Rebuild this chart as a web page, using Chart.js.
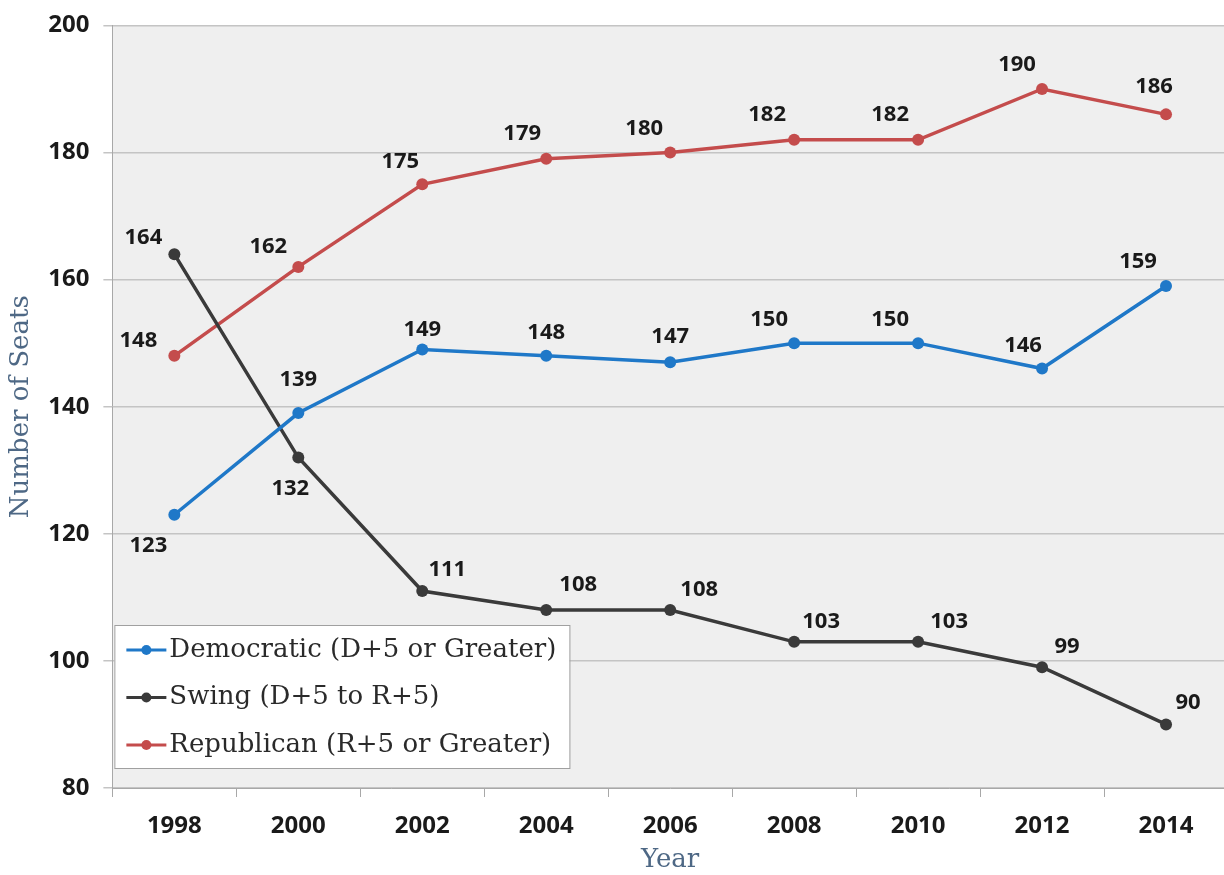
<!DOCTYPE html>
<html>
<head>
<meta charset="utf-8">
<script src="https://cdn.jsdelivr.net/npm/chart.js@4.4.1/dist/chart.umd.min.js"></script>
<style>
  html, body { margin: 0; padding: 0; background: #ffffff; overflow: hidden; }
  #wrap { width: 1224px; height: 875px; position: relative; overflow: hidden; }
  #c { position: absolute; left: 0; top: -3px; }
</style>
</head>
<body>
<div id="wrap"><canvas id="c" width="1234" height="881"></canvas></div>
<script>
// ---- data ----
const years = ['1998', '2000', '2002', '2004', '2006', '2008', '2010', '2012', '2014'];
const democratic = [123, 139, 149, 148, 147, 150, 150, 146, 159];
const swing      = [164, 132, 111, 108, 108, 103, 103, 99, 90];
const republican = [148, 162, 175, 179, 180, 182, 182, 190, 186];
const seriesNames = ['Democratic (D+5 or Greater)', 'Swing (D+5 to R+5)', 'Republican (R+5 or Greater)'];
const yTicks = [80, 100, 120, 140, 160, 180, 200];

// ---- styling ----
const colors = ['#1f78c8', '#3a3a3a', '#c44c4c'];
const labelFont = '700 22px "Open Sans"';
// label offsets (dx, dy) relative to each point, per series
const labelOffsets = [
  [[-26, 31], [0, -33], [0, -20], [0, -23], [0, -25], [-25, -23], [-28, -23], [-19, -23], [-28, -24]],
  [[-31, -16], [-8, 31], [25, -21], [32, -25], [29, -20], [27, -20], [31, -20], [25, -21], [22, -22]],
  [[-36, -15], [-30, -20], [-22, -23], [-24, -25], [-26, -24], [-27, -25], [-28, -25], [-25, -24], [-12, -28]]
];

const bgPlugin = {
  id: 'plotBg',
  beforeDraw(chart) {
    const { ctx, chartArea: a } = chart;
    ctx.save();
    ctx.fillStyle = '#efefef';
    ctx.fillRect(a.left, a.top, a.right - a.left, a.bottom - a.top);
    ctx.restore();
  }
};

const labelPlugin = {
  id: 'pointLabels',
  afterDatasetsDraw(chart) {
    const { ctx } = chart;
    ctx.save();
    ctx.font = labelFont;
    ctx.fillStyle = '#1a1a1a';
    ctx.textAlign = 'center';
    ctx.textBaseline = 'middle';
    chart.data.datasets.forEach((ds, di) => {
      const meta = chart.getDatasetMeta(di);
      meta.data.forEach((pt, i) => {
        const off = labelOffsets[di][i];
        ctx.fillText(String(ds.data[i]), pt.x + off[0], pt.y + off[1]);
      });
    });
    ctx.restore();
  }
};

const legendPlugin = {
  id: 'insideLegend',
  afterDraw(chart) {
    const { ctx, chartArea: a } = chart;
    ctx.save();
    ctx.font = '26px "DejaVu Serif"';
    const left = a.left + 2, top = 628, rowH = 47.5, padL = 12;
    let maxW = 0;
    seriesNames.forEach(n => { maxW = Math.max(maxW, ctx.measureText(n).width); });
    const w = padL + 40 + 3 + maxW + 13;
    const h = 143;
    ctx.fillStyle = '#ffffff';
    ctx.fillRect(left, top, w, h);
    ctx.strokeStyle = '#a0a0a0';
    ctx.lineWidth = 1;
    ctx.strokeRect(left + 0.5, top + 0.5, w, h);
    chart.data.datasets.forEach((ds, i) => {
      const y = top + 25 + i * rowH;
      const x0 = left + padL;
      ctx.strokeStyle = ds.borderColor;
      ctx.lineWidth = 3;
      ctx.beginPath(); ctx.moveTo(x0, y); ctx.lineTo(x0 + 40, y); ctx.stroke();
      ctx.fillStyle = ds.borderColor;
      ctx.beginPath(); ctx.arc(x0 + 20, y, 5, 0, Math.PI * 2); ctx.fill();
      ctx.fillStyle = '#2a2a2a';
      ctx.textBaseline = 'middle';
      ctx.textAlign = 'left';
      ctx.fillText(ds.label, x0 + 43, y);
    });
    ctx.restore();
  }
};

const mk = (i, data) => ({
  label: seriesNames[i],
  data: data,
  borderColor: colors[i],
  backgroundColor: colors[i],
  borderWidth: 3.5,
  pointRadius: 6,
  pointHoverRadius: 6,
  pointBorderWidth: 0,
  tension: 0
});

new Chart(document.getElementById('c'), {
  type: 'line',
  data: {
    labels: years,
    datasets: [mk(0, democratic), mk(1, swing), mk(2, republican)]
  },
  options: {
    responsive: false,
    animation: false,
    devicePixelRatio: 1,
    layout: { padding: { top: 5, right: 0, left: 6, bottom: 2 } },
    plugins: {
      legend: { display: false },
      tooltip: { enabled: false }
    },
    scales: {
      x: {
        offset: true,
        grid: { offset: true, drawOnChartArea: false, drawTicks: true, tickLength: 9, color: '#a8a8a8' },
        border: { color: '#a8a8a8' },
        ticks: { color: '#1a1a1a', font: { family: 'Open Sans', weight: '700', size: 24 }, padding: 15 },
        title: { display: true, text: 'Year', color: '#4e6885', font: { family: 'DejaVu Serif', size: 26 }, padding: { top: -11, bottom: 0 } }
      },
      y: {
        min: 80, max: 200,
        afterBuildTicks(axis) { axis.ticks = yTicks.map(v => ({ value: v })); },
        grid: { color: '#c4c4c4', tickLength: 9, lineWidth: 1.5 },
        border: { color: '#a8a8a8' },
        ticks: { color: '#1a1a1a', font: { family: 'Open Sans', weight: '700', size: 24 }, padding: 14 },
        title: { display: true, text: 'Number of Seats', color: '#4e6885', font: { family: 'DejaVu Serif', size: 26 }, padding: { top: 0, bottom: -3 } }
      }
    }
  },
  plugins: [bgPlugin, labelPlugin, legendPlugin]
});
</script>
</body>
</html>
